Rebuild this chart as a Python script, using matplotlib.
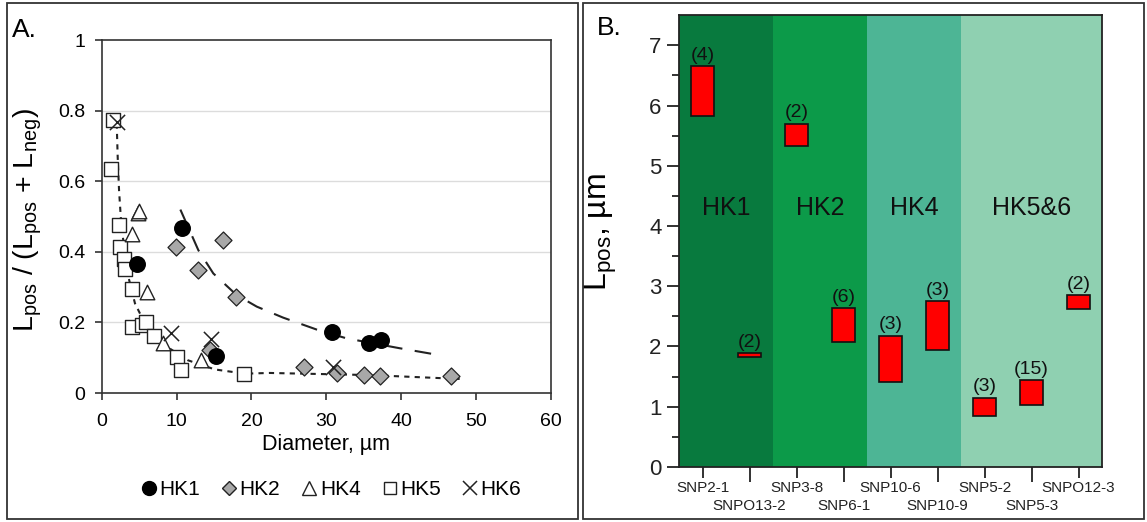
import matplotlib
matplotlib.use("Agg")
import matplotlib.pyplot as plt
from matplotlib.lines import Line2D
from matplotlib.patches import Rectangle

plt.rcParams["font.family"] = ["Liberation Sans", "DejaVu Sans"]

# ── Panel A data ────────────────────────────────────────────────────────
hk1_x = [4.7, 10.75, 15.2, 30.7, 35.7, 37.3]
hk1_y = [0.365, 0.469, 0.105, 0.174, 0.143, 0.150]

hk2_x = [9.9, 12.9, 16.2, 17.9, 14.4, 27.0, 31.4, 35.0, 37.2, 46.7]
hk2_y = [0.414, 0.350, 0.433, 0.271, 0.122, 0.075, 0.056, 0.051, 0.048, 0.048]

hk4_x = [4.9, 5.0, 4.0, 6.0, 8.2, 13.3]
hk4_y = [0.509, 0.515, 0.452, 0.287, 0.141, 0.093]

hk5_x = [1.55, 1.2, 2.3, 2.45, 3.0, 3.1, 4.0, 4.1, 5.4, 5.9, 7.0, 10.0, 10.6, 19.0]
hk5_y = [0.775, 0.634, 0.476, 0.414, 0.381, 0.353, 0.294, 0.188, 0.193,
         0.200, 0.161, 0.103, 0.065, 0.054]

hk6_x = [2.0, 9.2, 14.6, 30.9]
hk6_y = [0.769, 0.171, 0.152, 0.075]

# trend curves
fit12_x = [10.5, 12.9, 14.9, 18.0, 20.7, 24.2, 28.7, 32.7, 39.8, 44.4]
fit12_y = [0.520, 0.405, 0.339, 0.278, 0.245, 0.214, 0.180, 0.155, 0.127, 0.110]

fit56_x = [2.0, 2.13, 2.31, 2.57, 3.02, 3.55, 4.44, 5.77, 8.0, 11.5, 15.1,
           19.1, 22.4, 35.8, 47.8]
fit56_y = [0.764, 0.669, 0.575, 0.490, 0.405, 0.330, 0.254, 0.197, 0.141,
           0.093, 0.067, 0.055, 0.057, 0.051, 0.040]

# ── Panel B data ────────────────────────────────────────────────────────
samples = ["SNP2-1", "SNPO13-2", "SNP3-8", "SNP6-1", "SNP10-6", "SNP10-9",
           "SNP5-2", "SNP5-3", "SNPO12-3"]
box_low = [5.82, 1.83, 5.32, 2.08, 1.41, 1.94, 0.85, 1.03, 2.62]
box_high = [6.65, 1.89, 5.70, 2.64, 2.18, 2.75, 1.15, 1.44, 2.85]
counts = ["(4)", "(2)", "(2)", "(6)", "(3)", "(3)", "(3)", "(15)", "(2)"]

groups = ["HK1", "HK2", "HK4", "HK5&6"]
group_span = [(0.5, 2.5), (2.5, 4.5), (4.5, 6.5), (6.5, 9.5)]
group_colors = ["#087a3e", "#0c9a49", "#4db595", "#8fd0b1"]


def draw_panel_a(fig):
    ax = fig.add_axes([0.0887, 0.247, 0.3917, 0.676])
    ax.set_xlim(0, 60)
    ax.set_ylim(0, 1)
    ax.set_xticks([0, 10, 20, 30, 40, 50, 60])
    ax.set_yticks([0, 0.2, 0.4, 0.6, 0.8, 1])
    ax.set_yticklabels(["0", "0.2", "0.4", "0.6", "0.8", "1"])
    for yv in [0.2, 0.4, 0.6, 0.8]:
        ax.axhline(yv, color="#dcdcdc", linewidth=1.0, zorder=0)

    ax.plot(fit12_x, fit12_y, color="#222222", linestyle=(0, (8, 6)),
            linewidth=1.5, zorder=2)
    ax.plot(fit56_x, fit56_y, color="#222222", linestyle=(0, (2.5, 2.5)),
            linewidth=1.5, zorder=2)

    ax.scatter(hk5_x, hk5_y, marker="s", s=95, facecolor="white",
               edgecolor="#222222", linewidth=1.0, zorder=3)
    ax.scatter(hk4_x, hk4_y, marker="^", s=110, facecolor="white",
               edgecolor="#222222", linewidth=1.0, zorder=3)
    ax.scatter(hk2_x, hk2_y, marker="D", s=75, facecolor="#a8a8a8",
               edgecolor="#222222", linewidth=0.9, zorder=4)
    ax.scatter(hk1_x, hk1_y, marker="o", s=125, color="black", zorder=5)
    ax.scatter(hk6_x, hk6_y, marker="x", s=120, color="#222222",
               linewidth=1.1, zorder=6)

    for spine in ax.spines.values():
        spine.set_linewidth(1.2)
        spine.set_color("#333333")
    ax.tick_params(axis="both", direction="out", length=5, width=1.2,
                   labelsize=14, color="#333333")
    ax.tick_params(axis="x", pad=9)
    ax.tick_params(axis="y", pad=7)
    ax.set_xlabel("Diameter, \u00b5m", fontsize=15.5, labelpad=3)
    ax.set_ylabel("L$_\\mathregular{pos}$ / (L$_\\mathregular{pos}$ + "
                  "L$_\\mathregular{neg}$)", fontsize=20.5)
    ax.yaxis.set_label_coords(-0.128, 0.49)

    handles = [
        Line2D([], [], marker="o", color="black", linestyle="", markersize=10),
        Line2D([], [], marker="D", markerfacecolor="#a8a8a8",
               markeredgecolor="#222222", linestyle="", markersize=7.5),
        Line2D([], [], marker="^", markerfacecolor="white",
               markeredgecolor="#222222", linestyle="", markersize=9.5),
        Line2D([], [], marker="s", markerfacecolor="white",
               markeredgecolor="#222222", linestyle="", markersize=9),
        Line2D([], [], marker="x", color="#222222", linestyle="",
               markersize=10.5, markeredgewidth=1.1),
    ]
    fig.legend(handles, ["HK1", "HK2", "HK4", "HK5", "HK6"], ncol=5,
               loc="center", bbox_to_anchor=(0.288, 0.062), frameon=False,
               fontsize=15, handletextpad=0.05, columnspacing=0.95,
               handlelength=0.9)


def draw_panel_b(fig):
    ax = fig.add_axes([0.592, 0.1054, 0.3688, 0.8656])
    ax.set_xlim(0.5, 9.5)
    ax.set_ylim(0, 7.5)
    for (x0, x1), color, name in zip(group_span, group_colors, groups):
        ax.axvspan(x0, x1, color=color, linewidth=0, zorder=0)
        ax.text((x0 + x1) / 2, 4.3, name, fontsize=18, ha="center",
                va="center", color="#101010", zorder=2)

    pos = list(range(1, len(samples) + 1))
    heights = [hi - lo for lo, hi in zip(box_low, box_high)]
    ax.bar(pos, heights, bottom=box_low, width=0.5, color="#ff0000",
           edgecolor="#111111", linewidth=1.2, zorder=3)
    for p, hi, lab in zip(pos, box_high, counts):
        ax.text(p, hi + 0.04, lab, fontsize=14, ha="center", va="bottom",
                color="#111111", zorder=4)

    ax.set_xticks(pos[0::2])
    ax.set_xticklabels(samples[0::2])
    ax.set_xticks(pos[1::2], minor=True)
    ax.set_xticklabels(samples[1::2], minor=True)
    ax.set_yticks(range(0, 8))
    ax.set_yticks([0.5 + i for i in range(7)], minor=True)

    ax.tick_params(axis="x", which="major", direction="out", length=8,
                   width=1.3, pad=2, labelsize=11, colors="#222222")
    ax.tick_params(axis="x", which="minor", direction="out", length=11,
                   width=1.3, pad=12, labelsize=11, colors="#222222")
    ax.tick_params(axis="y", which="major", direction="out", length=9,
                   width=1.3, labelsize=16, colors="#222222")
    ax.tick_params(axis="y", which="minor", direction="out", length=5,
                   width=1.3, colors="#222222")
    for spine in ax.spines.values():
        spine.set_linewidth(1.3)
        spine.set_color("#222222")
    ax.set_ylabel("L$_\\mathregular{pos}$, \u00b5m", fontsize=23)
    ax.yaxis.set_label_coords(-0.143, 0.52)


def main():
    fig = plt.figure(figsize=(11.47, 5.22), dpi=100)

    # panel frames
    fig.patches.append(Rectangle((7 / 1147, 3 / 522), 571 / 1147, 516 / 522,
                                 transform=fig.transFigure, fill=False,
                                 edgecolor="#333333", linewidth=1.3))
    fig.patches.append(Rectangle((583 / 1147, 3 / 522), 561 / 1147, 516 / 522,
                                 transform=fig.transFigure, fill=False,
                                 edgecolor="#333333", linewidth=1.3))

    draw_panel_a(fig)
    draw_panel_b(fig)

    fig.text(12 / 1147, 1 - 30 / 522, "A.", fontsize=19, va="center")
    fig.text(597 / 1147, 1 - 28 / 522, "B.", fontsize=19, va="center")

    fig.savefig("out.png", dpi=100)
    plt.close(fig)


if __name__ == "__main__":
    main()
